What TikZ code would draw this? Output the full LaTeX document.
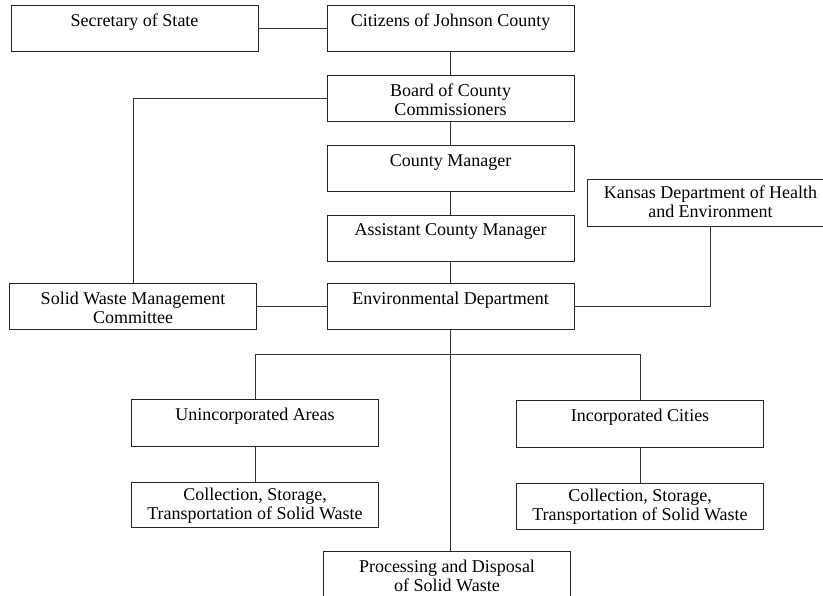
\documentclass[tikz,border=0pt]{standalone}
\usepackage{fontspec}
\setmainfont{Liberation Serif}
\begin{document}
\begin{tikzpicture}[x=1pt,y=-1pt,
  orgbox/.style={draw=black!85, line width=1pt, rectangle, minimum width=247pt,
    inner sep=0pt, text height=20.5pt, text depth=25.5pt, align=center,
    font=\fontsize{18}{19}\selectfont},
  twoline/.style={text height=39.5pt, text depth=6.5pt},
  link/.style={draw=black!80, line width=1pt}]
\useasboundingbox (0,0) rectangle (823,596);
\clip (0,0) rectangle (823,596);
\fill[white] (0,0) rectangle (823,596);
\node[orgbox] (sec)   at (134.5,29)  {Secretary of State};
\node[orgbox] (cit)   at (450.5,29)  {Citizens of Johnson County};
\node[orgbox,twoline] (board) at (450.5,99)  {Board of County\\Commissioners};
\node[orgbox] (cm)    at (450.5,169) {County Manager};
\node[orgbox,twoline,text height=37.5pt,text depth=9.5pt] (kdhe)  at (710.5,203.5) {Kansas Department of Health\\and Environment};
\node[orgbox] (acm)   at (450.5,238.5) {Assistant County Manager};
\node[orgbox] (env)   at (450.5,307) {Environmental Department};
\node[orgbox,twoline] (swmc)  at (133,307)   {Solid Waste Management\\Committee};
\node[orgbox] (uninc) at (255,423)   {Unincorporated Areas};
\node[orgbox,twoline,text height=37pt,text depth=8pt] (colL)  at (255,504.5) {Collection, Storage,\\Transportation of Solid Waste};
\node[orgbox] (inc)   at (640,424)   {Incorporated Cities};
\node[orgbox,twoline,text height=37pt,text depth=9pt] (colR)  at (640,506)   {Collection, Storage,\\Transportation of Solid Waste};
\node[orgbox,twoline] (proc)  at (447,574.7) {Processing and Disposal\\of Solid Waste};
\coordinate (bus) at (450.5,354.5);
\path[link] (sec) -- (cit);
\path[link] (cit) -- (board);
\path[link] (board) -- (cm);
\path[link] (cm) -- (acm);
\path[link] (acm) -- (env);
\path[link] (board.west) -| (swmc.north);
\path[link] (swmc) -- (env);
\path[link] (kdhe.south) |- (env.east);
\path[link] (env.south) -- (env.south |- proc.north);
\path[link] (uninc.north) |- (bus) -| (inc.north);
\path[link] (uninc) -- (colL);
\path[link] (inc) -- (colR);
\end{tikzpicture}
\end{document}
